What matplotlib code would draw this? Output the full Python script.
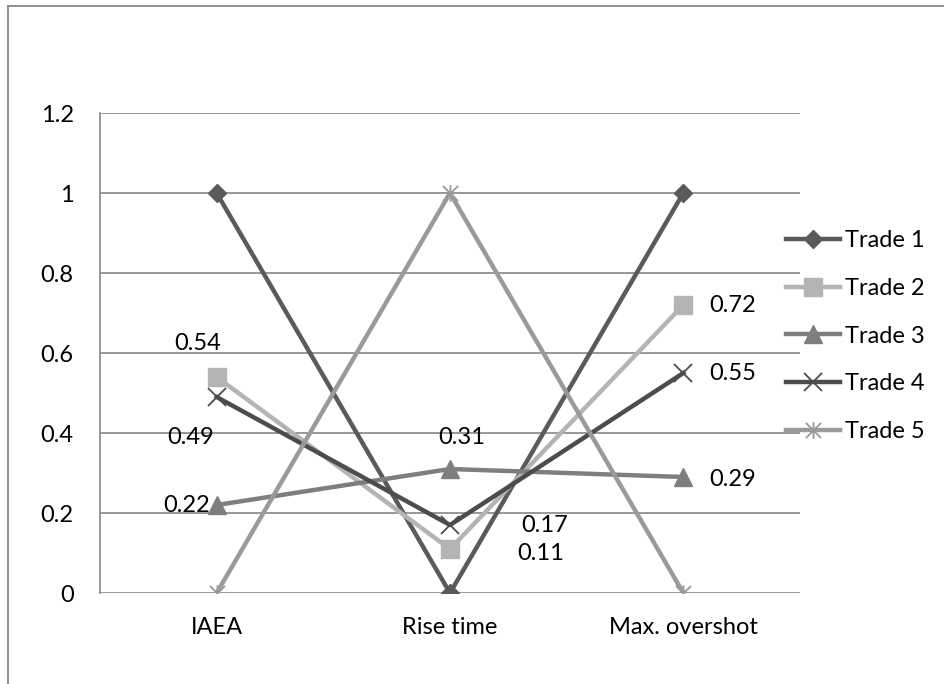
import matplotlib
matplotlib.use("Agg")
import matplotlib.pyplot as plt
from matplotlib.lines import Line2D
from matplotlib.path import Path

# Datos
categorias = ["IAEA", "Rise time", "Max. overshot"]
trade1 = [1, 0, 1]
trade2 = [0.54, 0.11, 0.72]
trade3 = [0.22, 0.31, 0.29]
trade4 = [0.49, 0.17, 0.55]
trade5 = [0, 1, 0]
nombres = ["Trade 1", "Trade 2", "Trade 3", "Trade 4", "Trade 5"]
yticks = [0, 0.2, 0.4, 0.6, 0.8, 1, 1.2]
yticklabels = ["0", "0.2", "0.4", "0.6", "0.8", "1", "1.2"]

plt.rcParams['font.family'] = ['Lato', 'DejaVu Sans']
FS = 17

W, H = 944, 684
fig = plt.figure(figsize=(W / 100, H / 100), dpi=100)
ax = fig.add_axes([100 / W, (H - 593) / H, 700 / W, 480 / H])

gris = "#868686"
# borde exterior del gráfico (solo arriba e izquierda visibles)
fig.add_artist(Line2D([8 / W, 1], [1 - 6 / H, 1 - 6 / H], color=gris, lw=1.3))
fig.add_artist(Line2D([8 / W, 8 / W], [0, 1 - 6 / H], color=gris, lw=1.3))

# marcador "estrella" de Excel: aspa más línea vertical
estrella = Path([(-1, -1), (1, 1), (-1, 1), (1, -1), (0, -1.1), (0, 1.1)],
                [Path.MOVETO, Path.LINETO, Path.MOVETO, Path.LINETO,
                 Path.MOVETO, Path.LINETO])

x = list(range(len(categorias)))
estilos = [
    (trade1, "#5a5a5a", "D", 9.5, 1.0),
    (trade2, "#b4b4b4", "s", 13, 1.0),
    (trade3, "#7e7e7e", "^", 13, 1.0),
    (trade4, "#4c4c4c", "x", 13, 1.3),
    (trade5, "#9a9a9a", estrella, 12, 1.3),
]
for (serie, color, marca, ms, mew), nombre in zip(estilos, nombres):
    ax.plot(x, serie, color=color, lw=3.2, marker=marca, markersize=ms,
            markeredgewidth=mew, markeredgecolor=color, markerfacecolor=color,
            label=nombre, zorder=3)

# etiquetas de datos (desplazamientos en píxeles)
etiquetas = [
    (0, trade2[0], -19, 34, "center"),
    (0, trade4[0], -26, -40, "center"),
    (0, trade3[0], -30, -1, "center"),
    (1, trade3[1], 12, 31, "center"),
    (1, trade4[1], 95, -1, "center"),
    (1, trade2[1], 91, -5, "center"),
    (2, trade2[2], 26, 0, "left"),
    (2, trade4[2], 26, 0, "left"),
    (2, trade3[2], 26, -2, "left"),
]
for xi, yi, dx, dy, ha in etiquetas:
    ax.annotate(f"{yi:.2f}", (xi, yi), xytext=(dx, dy), textcoords="offset pixels",
                ha=ha, va="center", fontsize=FS, color="black", zorder=5)

ax.set_xlim(-0.5, 2.5)
ax.set_ylim(0, 1.2)
ax.set_yticks(yticks)
ax.set_yticklabels(yticklabels)
ax.set_xticks(x)
ax.set_xticklabels(categorias)
ax.tick_params(axis="y", length=0, pad=19, labelsize=FS)
ax.tick_params(axis="x", length=0, pad=17, labelsize=FS)
ax.grid(axis="y", color=gris, lw=1.2, zorder=0)
for lado in ["top", "right", "bottom"]:
    ax.spines[lado].set_visible(False)
ax.spines["left"].set_color(gris)
ax.spines["left"].set_linewidth(1.2)

ax.legend(loc="center left", bbox_to_anchor=(0.966, 0.535), frameon=False,
          borderaxespad=0, fontsize=FS, handlelength=2.3, handletextpad=0.2,
          labelspacing=1.13)

fig.savefig("out.png", dpi=100)
